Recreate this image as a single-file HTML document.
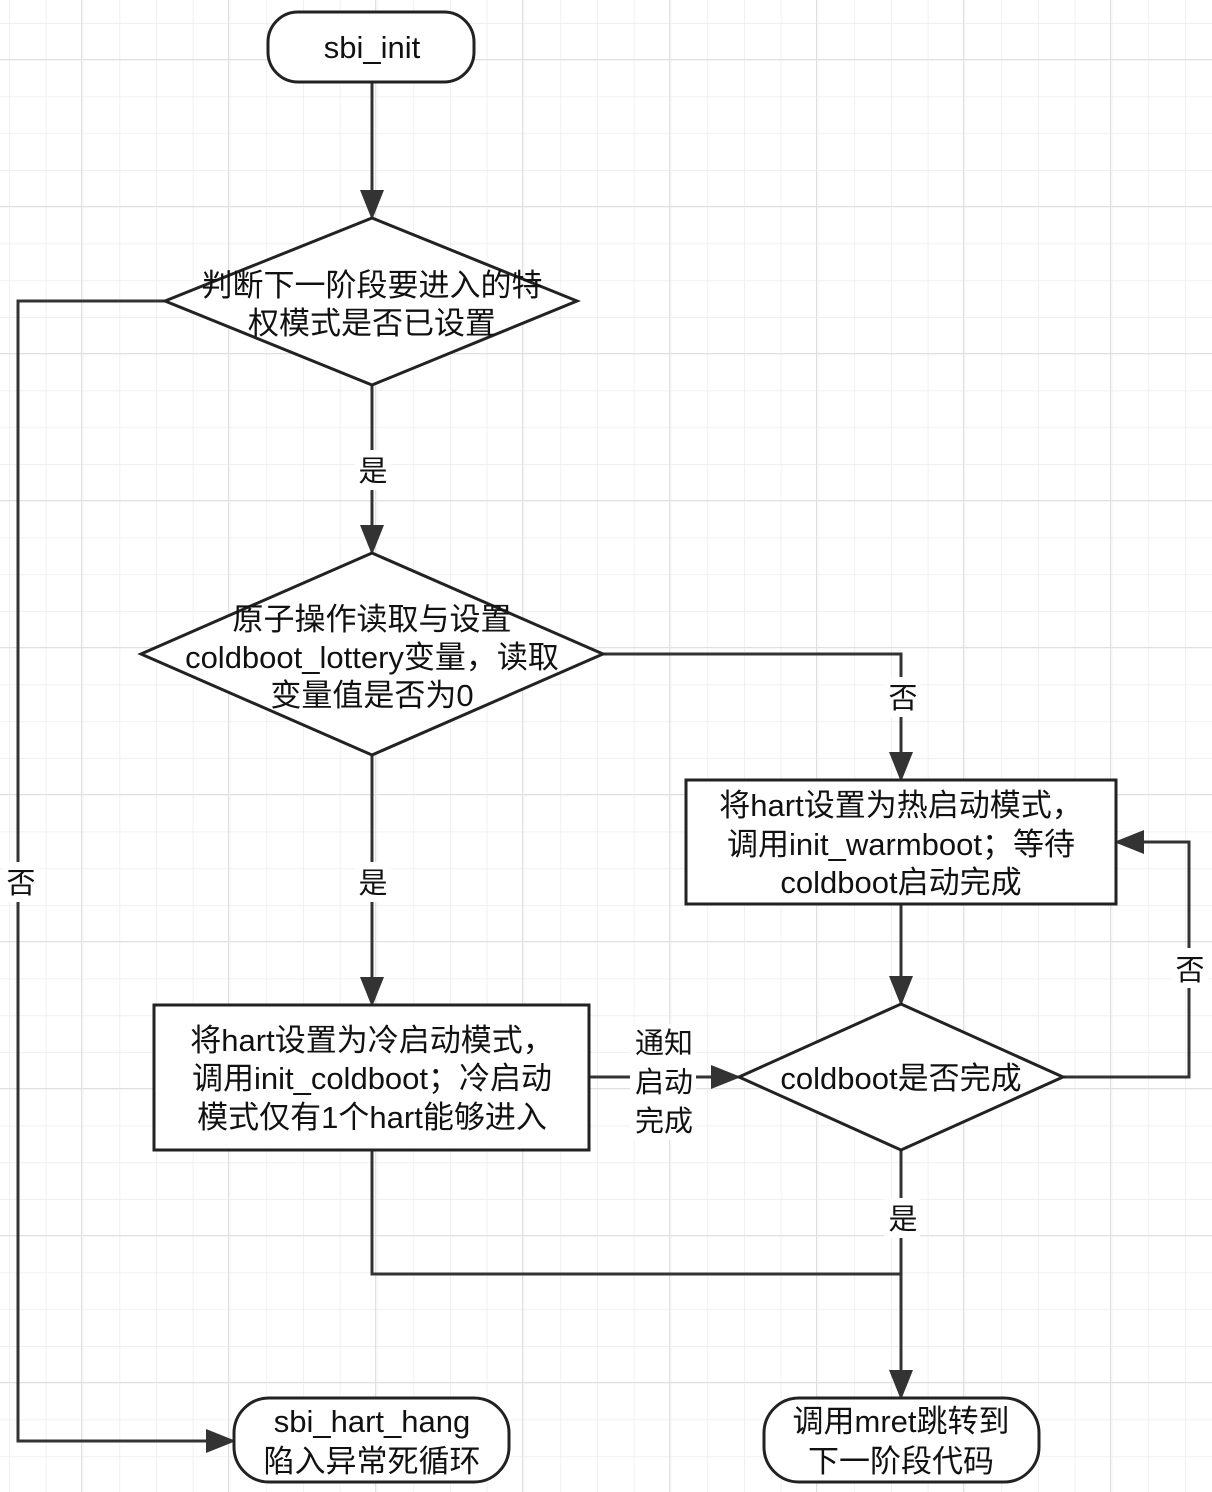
<!DOCTYPE html>
<html><head><meta charset="utf-8"><style>
html,body{margin:0;padding:0;background:#fff}
svg{display:block}
text{font-family:"Liberation Sans","Noto Sans CJK SC",sans-serif;font-size:31px;fill:#111;text-anchor:middle}
text.l{font-size:29px}
</style></head><body>
<svg width="1212" height="1492" viewBox="0 0 1212 1492" xmlns="http://www.w3.org/2000/svg">
<defs>
<pattern id="g" x="9" y="23" width="36.75" height="36.75" patternUnits="userSpaceOnUse">
<path d="M0 0V36.75M0 0H36.75" stroke="#ececec" stroke-width="1.5" fill="none"/>
</pattern>
<pattern id="G" x="81" y="59" width="147" height="147" patternUnits="userSpaceOnUse">
<path d="M0 0V147M0 0H147" stroke="#e0e0e0" stroke-width="2" fill="none"/>
</pattern>
<marker id="A" markerWidth="30" markerHeight="24" refX="28" refY="12" orient="auto" markerUnits="userSpaceOnUse" viewBox="0 0 30 24">
<path d="M0 0L30 12L0 24z" fill="#333"/>
</marker>
</defs>
<rect width="1212" height="1492" fill="url(#g)"/>
<rect width="1212" height="1492" fill="url(#G)"/>
<g stroke="#333" stroke-width="3" fill="none">
<path d="M372 82V218" marker-end="url(#A)"/>
<path d="M372 385V553" marker-end="url(#A)"/>
<path d="M372 755V1005" marker-end="url(#A)"/>
<path d="M603 654H901V780" marker-end="url(#A)"/>
<path d="M901 904V1004" marker-end="url(#A)"/>
<path d="M1063 1077H1189V842H1116" marker-end="url(#A)"/>
<path d="M589 1077H739" marker-end="url(#A)"/>
<path d="M901 1150V1398" marker-end="url(#A)"/>
<path d="M372 1150V1274H901"/>
<path d="M165 301H18V1441H234" marker-end="url(#A)"/>
</g>
<g stroke="#222" stroke-width="3" fill="#fff">
<rect x="268" y="12" width="206" height="70" rx="30"/>
<path d="M165 301L372 218L577 301L372 385Z"/>
<path d="M141 654L372 553L603 654L372 755Z"/>
<rect x="686" y="780" width="430" height="124"/>
<rect x="154" y="1005" width="435" height="145"/>
<path d="M739 1077L901 1004L1063 1077L901 1150Z"/>
<rect x="234" y="1398" width="275" height="84" rx="35"/>
<rect x="764" y="1398" width="275" height="84" rx="35"/>
</g>
<rect x="355" y="450" width="36" height="40" fill="#fff"/>
<rect x="355" y="862" width="36" height="40" fill="#fff"/>
<rect x="884" y="677" width="36" height="40" fill="#fff"/>
<rect x="1172" y="948" width="36" height="40" fill="#fff"/>
<rect x="884" y="1198" width="36" height="40" fill="#fff"/>
<rect x="3" y="862" width="36" height="40" fill="#fff"/>
<rect x="630" y="1024" width="66" height="116" fill="#fff"/>
<text x="372" y="58">sbi_init</text>
<text x="372" y="296">判断下一阶段要进入的特</text>
<text x="372" y="334">权模式是否已设置</text>
<text x="372" y="630">原子操作读取与设置</text>
<text x="372" y="668">coldboot_lottery变量，读取</text>
<text x="372" y="706">变量值是否为0</text>
<text x="901" y="816">将hart设置为热启动模式，</text>
<text x="901" y="855">调用init_warmboot；等待</text>
<text x="901" y="893">coldboot启动完成</text>
<text x="372" y="1051">将hart设置为冷启动模式，</text>
<text x="372" y="1089">调用init_coldboot；冷启动</text>
<text x="372" y="1128">模式仅有1个hart能够进入</text>
<text x="901" y="1089">coldboot是否完成</text>
<text x="372" y="1432">sbi_hart_hang</text>
<text x="372" y="1472">陷入异常死循环</text>
<text x="901" y="1432">调用mret跳转到</text>
<text x="901" y="1472">下一阶段代码</text>
<text class="l" x="373" y="481">是</text>
<text class="l" x="373" y="893">是</text>
<text class="l" x="903" y="708">否</text>
<text class="l" x="1190" y="980">否</text>
<text class="l" x="903" y="1229">是</text>
<text class="l" x="21" y="893">否</text>
<text class="l" x="664" y="1053">通知</text>
<text class="l" x="664" y="1092">启动</text>
<text class="l" x="664" y="1131">完成</text>
</svg>
</body></html>
